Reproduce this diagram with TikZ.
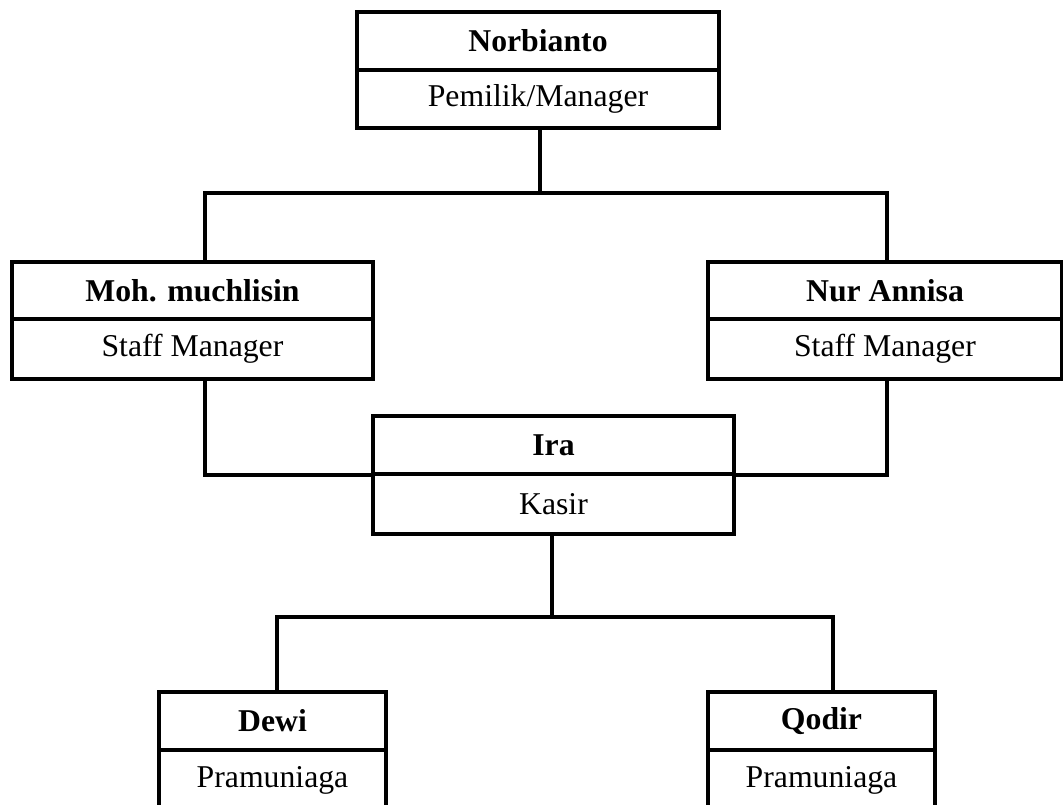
\documentclass[tikz,border=0pt]{standalone}
\usepackage{fontspec}
\setmainfont{Liberation Serif}
\begin{document}
\begin{tikzpicture}[x=0.75pt,y=-0.75pt,
  cell/.style={draw=black, line width=2.4pt, rectangle, inner sep=0pt,
    font=\fontsize{23.8}{28}\selectfont},
  namecell/.style={cell, font=\fontsize{23.8}{28}\selectfont\bfseries},
  wide/.style={minimum width=361*0.75pt},
  narrow/.style={minimum width=227*0.75pt},
  conn/.style={draw=black, line width=2.4pt, line join=miter}]
\useasboundingbox (0,0) rectangle (1063,805);
\fill[white] (0,0) rectangle (1063,805);
\clip (0,0) rectangle (1063,805);

% top
\node[namecell, minimum width=362*0.75pt, minimum height=58*0.75pt] (nor1) at (538,41) {Norbianto};
\node[cell, minimum width=362*0.75pt, minimum height=58*0.75pt] (nor2) at (538,99) {Pemilik/Manager};

% left
\node[namecell, wide, minimum height=57*0.75pt] (ms1) at (192.5,290.5) {Moh. muchlisin};
\node[cell, wide, minimum height=60*0.75pt] (ms2) at (192.5,349) {Staff Manager};

% right
\node[namecell, minimum width=354*0.75pt, minimum height=57*0.75pt] (na1) at (885,290.5) {Nur Annisa};
\node[cell, minimum width=354*0.75pt, minimum height=60*0.75pt] (na2) at (885,349) {Staff Manager};

% Ira
\node[namecell, wide, minimum height=58*0.75pt] (ira1) at (553.5,445) {Ira};
\node[cell, wide, minimum height=60*0.75pt] (ira2) at (553.5,504) {Kasir};

% bottom
\node[namecell, narrow, minimum height=58*0.75pt] (dewi1) at (272.5,721) {Dewi};
\node[cell, narrow, minimum height=60*0.75pt] (dewi2) at (272.5,780) {Pramuniaga};
\node[namecell, narrow, minimum height=58*0.75pt] (qod1) at (821.5,721) {Qodir};
\node[cell, narrow, minimum height=60*0.75pt] (qod2) at (821.5,780) {Pramuniaga};

% junctions
\coordinate (jC) at (540,193);
\coordinate (jL) at (205,193);
\coordinate (jR) at (887,193);
\coordinate (kL) at (205,475);
\coordinate (kR) at (887,475);
\coordinate (mC) at (552,617);
\coordinate (mL) at (277,617);
\coordinate (mR) at (833,617);

\draw[conn] (nor2.south -| jC) -- (jC);
\draw[conn] (ms1.north -| jL) -- (jL) -- (jR) -- (na1.north -| jR);
\draw[conn] (ms2.south -| kL) -- (kL) -- (kL -| ira1.west);
\draw[conn] (na2.south -| kR) -- (kR) -- (kR -| ira1.east);
\draw[conn] (ira2.south -| mC) -- (mC);
\draw[conn] (dewi1.north -| mL) -- (mL) -- (mR) -- (qod1.north -| mR);
\end{tikzpicture}
\end{document}
